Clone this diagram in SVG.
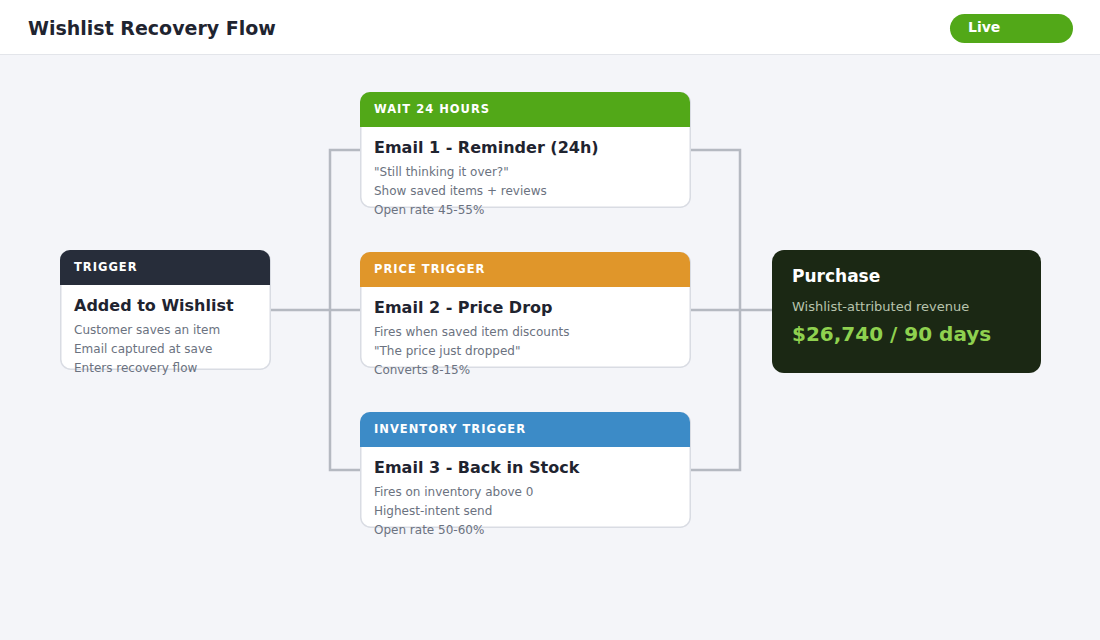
<svg xmlns="http://www.w3.org/2000/svg" width="1100" height="640" viewBox="0 0 1100 640">
<style>
text{font-family:"DejaVu Sans",Verdana,sans-serif}
.card{fill:#fff;stroke:#d9dce3;stroke-width:1.5}
.lbl{font-size:11.5px;font-weight:bold;fill:#fff;letter-spacing:1px}
.ttl{font-size:16px;font-weight:bold;fill:#1f2430}
.body{font-size:12px;fill:#6b7280}
.conn{fill:none;stroke:#b5b9c1;stroke-width:2.5}
</style>
<rect width="1100" height="640" fill="#f4f5f9"/>
<rect width="1100" height="54" fill="#fff"/>
<line x1="0" y1="54.5" x2="1100" y2="54.5" stroke="#e3e5ea" stroke-width="1"/>
<text x="28" y="35" font-size="19" font-weight="bold" fill="#1f2430">Wishlist Recovery Flow</text>
<g id="live">
<rect x="950" y="14" width="123" height="29" rx="14.5" fill="#52a818"/>
<text x="968" y="32" font-size="14" font-weight="bold" fill="#fff">Live</text>
</g>
<g id="connectors">
<path class="conn" d="M270 310H772"/>
<path class="conn" d="M360 150H330V470H360"/>
<path class="conn" d="M690 150H740V470H690"/>
</g>
<g id="trigger">
<rect class="card" x="60.75" y="250.75" width="209.5" height="118.5" rx="10"/>
<path d="M70 250H260A10 10 0 0 1 270 260V285H60V260A10 10 0 0 1 70 250Z" fill="#272d3a"/>
<text class="lbl" x="74" y="271">TRIGGER</text>
<text class="ttl" x="74" y="311">Added to Wishlist</text>
<text class="body" x="74" y="334">Customer saves an item</text>
<text class="body" x="74" y="353">Email captured at save</text>
<text class="body" x="74" y="372">Enters recovery flow</text>
</g>
<g id="email1">
<rect class="card" x="360.75" y="92.75" width="329.5" height="114.5" rx="10"/>
<path d="M370 92H680A10 10 0 0 1 690 102V127H360V102A10 10 0 0 1 370 92Z" fill="#52a818"/>
<text class="lbl" x="374" y="113">WAIT 24 HOURS</text>
<text class="ttl" x="374" y="153">Email 1 - Reminder (24h)</text>
<text class="body" x="374" y="176">"Still thinking it over?"</text>
<text class="body" x="374" y="195">Show saved items + reviews</text>
<text class="body" x="374" y="214">Open rate 45-55%</text>
</g>
<g id="email2">
<rect class="card" x="360.75" y="252.75" width="329.5" height="114.5" rx="10"/>
<path d="M370 252H680A10 10 0 0 1 690 262V287H360V262A10 10 0 0 1 370 252Z" fill="#e0962a"/>
<text class="lbl" x="374" y="273">PRICE TRIGGER</text>
<text class="ttl" x="374" y="313">Email 2 - Price Drop</text>
<text class="body" x="374" y="336">Fires when saved item discounts</text>
<text class="body" x="374" y="355">"The price just dropped"</text>
<text class="body" x="374" y="374">Converts 8-15%</text>
</g>
<g id="email3">
<rect class="card" x="360.75" y="412.75" width="329.5" height="114.5" rx="10"/>
<path d="M370 412H680A10 10 0 0 1 690 422V447H360V422A10 10 0 0 1 370 412Z" fill="#3c8bc7"/>
<text class="lbl" x="374" y="433">INVENTORY TRIGGER</text>
<text class="ttl" x="374" y="473">Email 3 - Back in Stock</text>
<text class="body" x="374" y="496">Fires on inventory above 0</text>
<text class="body" x="374" y="515">Highest-intent send</text>
<text class="body" x="374" y="534">Open rate 50-60%</text>
</g>
<g id="purchase">
<rect x="772" y="250" width="269" height="123" rx="12" fill="#1b2814"/>
<text x="792" y="282" font-size="17" font-weight="bold" fill="#fff">Purchase</text>
<text x="792" y="311" font-size="13" fill="#b8c4ad">Wishlist-attributed revenue</text>
<text x="792" y="341" font-size="20" font-weight="bold" fill="#8fd14f">$26,740 / 90 days</text>
</g>
</svg>
